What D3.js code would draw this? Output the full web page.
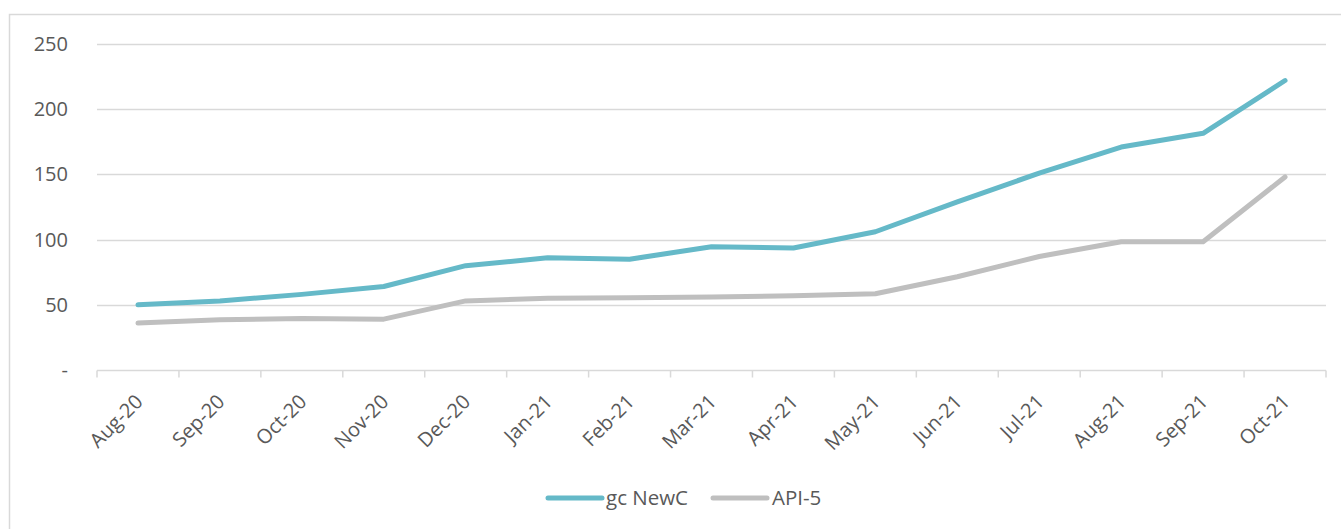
<!DOCTYPE html>
<html><head><meta charset="utf-8">
<script src="https://cdn.jsdelivr.net/npm/d3@7"></script>
<style>body{margin:0;background:#fff}svg{display:block}text{font-family:"Open Sans",sans-serif;fill:#595959}</style>
</head><body><svg id="c" width="1341" height="529"></svg>
<script>
const categories=["Aug-20","Sep-20","Oct-20","Nov-20","Dec-20","Jan-21","Feb-21","Mar-21","Apr-21","May-21","Jun-21","Jul-21","Aug-21","Sep-21","Oct-21"];
const gcNewC=[50,53,58,64,80,86,85,94.5,93.5,106,129,151,171,181.5,222];
const api5=[36,38.5,39.5,39,53,55,55.5,56,57,58.5,71.5,87,98.4,98.4,148];
const yTicks=[0,50,100,150,200,250];
const seriesNames=["gc NewC","API-5"];
const colors=["#65B9C8","#BFBFBF"];

const svg=d3.select("#c");
svg.append("rect").attr("x",9.5).attr("y",14.5).attr("width",1340).attr("height",530).attr("fill","#fff").attr("stroke","#D9D9D9").attr("stroke-width",1.5);
const x=d3.scaleBand().domain(categories).range([97,1326]);
const y=d3.scaleLinear().domain([0,250]).range([370,44]);

// gridlines
svg.append("g").selectAll("line").data(yTicks.filter(d=>d>0)).join("line")
 .attr("x1",97).attr("x2",1326).attr("y1",d=>Math.round(y(d))+0.5).attr("y2",d=>Math.round(y(d))+0.5)
 .attr("stroke","#D9D9D9").attr("stroke-width",1.3);
// y labels
svg.append("g").selectAll("text").data(yTicks).join("text")
 .attr("x",68).attr("y",d=>y(d)+7).attr("text-anchor","end").attr("font-size",20)
 .text(d=>d===0?"-":d);
// x axis
const ax=svg.append("g").attr("transform","translate(0,370.5)");
ax.append("line").attr("x1",97).attr("x2",1326).attr("stroke","#D9D9D9").attr("stroke-width",1.5);
const bounds=categories.map(c=>x(c)).concat([x.range()[1]]);
ax.selectAll("line.t").data(bounds).join("line").attr("class","t")
 .attr("x1",d=>d).attr("x2",d=>d).attr("y1",0).attr("y2",7).attr("stroke","#D9D9D9").attr("stroke-width",1.5);
svg.append("g").selectAll("text").data(categories).join("text")
 .attr("text-anchor","end").attr("font-size",20)
 .attr("transform",c=>`translate(${x(c)+x.bandwidth()/2+6},${403}) rotate(-45)`)
 .text(c=>c);

const line=d3.line().x((d,i)=>x(categories[i])+x.bandwidth()/2).y(d=>y(d));
[gcNewC,api5].forEach((s,k)=>{
 svg.append("path").datum(s).attr("d",line).attr("fill","none").attr("stroke",colors[k])
  .attr("stroke-width",5).attr("stroke-linejoin","round").attr("stroke-linecap","round");
});
// legend
const leg=[{x:548,tx:606},{x:713,tx:772}];
seriesNames.forEach((n,k)=>{
 svg.append("line").attr("x1",leg[k].x).attr("x2",leg[k].x+54).attr("y1",498).attr("y2",498)
  .attr("stroke",colors[k]).attr("stroke-width",5).attr("stroke-linecap","round");
 svg.append("text").attr("x",leg[k].tx).attr("y",505).attr("font-size",20.5).text(n);
});
</script></body></html>
